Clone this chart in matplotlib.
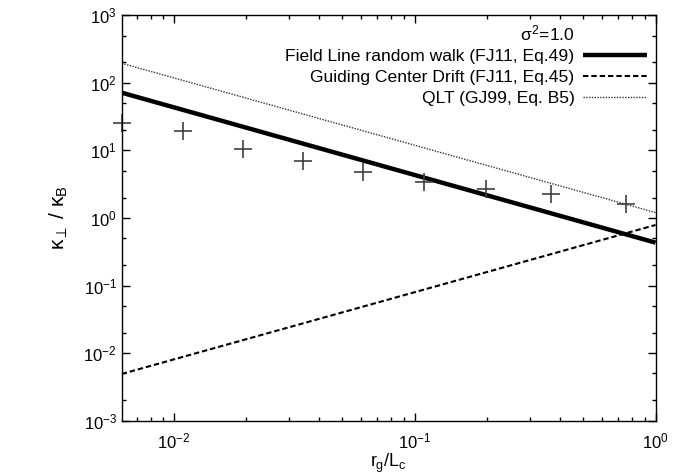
import numpy as np
import matplotlib; matplotlib.use("Agg")
import matplotlib.pyplot as plt
from matplotlib.ticker import LogLocator, FixedLocator, FuncFormatter, NullFormatter

plt.rcParams['font.family'] = ['Liberation Sans', 'DejaVu Sans']
plt.rcParams['mathtext.fontset'] = 'custom'
plt.rcParams['mathtext.rm'] = 'Liberation Sans'
plt.rcParams['mathtext.it'] = 'Liberation Sans'
plt.rcParams['mathtext.bf'] = 'Liberation Sans:bold'

# ---------- data ----------
sim_x = [0.00607, 0.01086, 0.0194, 0.0344, 0.0611, 0.109, 0.198, 0.369, 0.751]
sim_k = [25.7, 19.4, 10.4, 7.0, 4.84, 3.44, 2.66, 2.24, 1.61]

line_x = [0.00607, 1.0]
flrw_k = [71.3, 0.431]     # Field Line random walk (FJ11, Eq.49)
gcd_k = [0.00492, 0.787]   # Guiding Center Drift (FJ11, Eq.45)
qlt_k = [194.0, 1.20]      # QLT (GJ99, Eq. B5)

x_major = [1e-2, 1e-1, 1e0]
y_major = [1e-3, 1e-2, 1e-1, 1e0, 1e1, 1e2, 1e3]

fig = plt.figure(figsize=(6.85, 4.74), dpi=100)
ax = fig.add_axes([0.1777, 0.1124, 0.957 - 0.1777, 0.968 - 0.1124])

# invisible entry carries the sigma^2 title so it right-aligns with the labels
ax.plot([], [], color='none', label=r'$\sigma^2$=1.0')
ax.plot(line_x, flrw_k, color='black', lw=3.2, solid_capstyle='butt',
        label='Field Line random walk (FJ11, Eq.49)')
ax.plot(line_x, gcd_k, color='black', lw=1.5, linestyle=(0, (2.6, 1.4)),
        label='Guiding Center Drift (FJ11, Eq.45)')
ax.plot(line_x, qlt_k, color='#333333', lw=1.0, linestyle=(0, (1, 1)),
        label='QLT (GJ99, Eq. B5)')
ax.plot(sim_x, sim_k, linestyle='none', marker='+', markersize=13,
        mew=1.2, color='#404040', clip_on=False)

ax.set_xscale('log'); ax.set_yscale('log')
ax.set_xlim(0.00607, 1.0)
ax.set_ylim(1e-3, 1e3)

fmt = FuncFormatter(lambda v, p: r'$10^{%d}$' % int(round(np.log10(v))))
ax.xaxis.set_major_locator(FixedLocator(x_major))
ax.xaxis.set_minor_locator(LogLocator(base=10, subs=np.arange(2, 10), numticks=10))
ax.yaxis.set_major_locator(FixedLocator(y_major))
ax.yaxis.set_minor_locator(LogLocator(base=10, subs=[2, 5], numticks=10))
ax.xaxis.set_major_formatter(fmt); ax.yaxis.set_major_formatter(fmt)
ax.xaxis.set_minor_formatter(NullFormatter()); ax.yaxis.set_minor_formatter(NullFormatter())
ax.tick_params(which='both', direction='in', top=True, right=True, labelsize=12)
ax.tick_params(which='major', length=6, width=1)
ax.tick_params(which='minor', length=3, width=1)
ax.tick_params(axis='x', pad=8)
for s in ax.spines.values():
    s.set_linewidth(1.0)

ax.set_xlabel(r'$r_g/L_c$', fontsize=13, labelpad=0)
ax.set_ylabel(r'$\kappa_\perp$ / $\kappa_B$', fontsize=15, labelpad=10)

leg = ax.legend(loc='upper right', frameon=False, markerfirst=False,
                fontsize=12.6, handlelength=3.7, handletextpad=0.45,
                labelspacing=0.32, borderaxespad=0.12, borderpad=0.35)

fig.savefig('out.png', dpi=100)
